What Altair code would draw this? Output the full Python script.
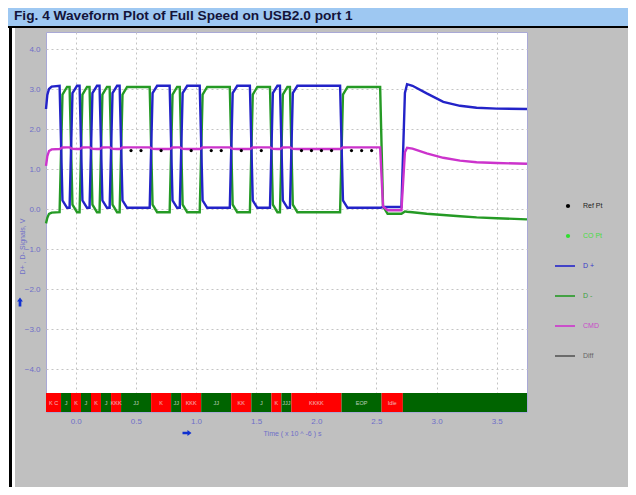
import altair as alt
import pandas as pd

FONT = "Liberation Sans"
TITLE = "Fig. 4 Waveform Plot of Full Speed on USB2.0 port 1"
Y_TITLE = "D+ , D- Signals, V"
X_TITLE = "Time ( x 10 ^ -6 ) s"

legend_names = ["Ref Pt", "CO Pt", "D +", "D -", "CMD", "Diff"]
legend_kinds = ["dot", "dot", "line", "line", "line", "line"]
legend_colors = ["#000000", "#2ee02e", "#2323c8", "#259a25", "#cc33cc", "#555555"]

x_ticks = [0.0, 0.5, 1.0, 1.5, 2.0, 2.5, 3.0, 3.5]
y_ticks = [-4.0, -3.0, -2.0, -1.0, 0.0, 1.0, 2.0, 3.0, 4.0]

# crossing times of D+/D- (x 10^-6 s)
edge_t = [-0.122, -0.039, 0.044, 0.127, 0.210, 0.294, 0.377, 0.627, 0.793,
          0.877, 1.043, 1.293, 1.460, 1.627, 1.710, 1.793, 2.210, 2.543, 2.720]
# bus state before the first edge and after each edge: H = D+ high, L = D+ low, Z = SE0
states = ["H", "L", "H", "L", "H", "L", "H", "L", "H", "L",
          "H", "L", "H", "L", "H", "L", "H", "L", "Z", "H"]

dp_level = {"H": 3.08, "L": 0.03, "Z": 0.05}
dm_level = {"H": -0.08, "L": 3.05, "Z": -0.12}
cmd_level = {"H": 1.50, "L": 1.54, "Z": -0.03}

start_t = [-0.247, -0.236, -0.222, -0.200]
dp_start = [2.50, 2.85, 3.00, 3.06]
dm_start = [-0.36, -0.22, -0.12, -0.09]
cmd_start = [1.08, 1.32, 1.45, 1.49]

tail_t = [2.737, 2.755, 2.800, 2.918, 3.056, 3.195, 3.333, 3.500, 3.752]
dp_tail = [2.90, 3.12, 3.08, 2.89, 2.68, 2.58, 2.53, 2.51, 2.50]
dm_tail = [-0.06, -0.07, -0.08, -0.12, -0.15, -0.18, -0.21, -0.23, -0.26]
cmd_tail = [1.42, 1.53, 1.51, 1.39, 1.28, 1.21, 1.17, 1.15, 1.13]

ref_t = [0.460, 0.543, 0.710, 0.960, 1.127, 1.210, 1.377, 1.543,
         1.877, 1.960, 2.043, 2.127, 2.293, 2.377, 2.460]
ref_v = [1.46, 1.46, 1.46, 1.46, 1.46, 1.46, 1.46, 1.46,
         1.46, 1.46, 1.46, 1.46, 1.46, 1.46, 1.46]

bar_bounds = [-0.247] + edge_t + [3.752]
bar_kind = ["K", "J", "K", "J", "K", "J", "K", "J", "K", "J",
            "K", "J", "K", "J", "K", "J", "K", "J", "K", "J"]
bar_labels = ["K C", "J", "K", "J", "K", "J", "KKK", "JJ", "K", "JJ",
              "KKK", "JJ", "KK", "J", "K", "JJJ", "KKKK", "EOP", "Idle", ""]

X_DOMAIN = [-0.247, 3.752]
Y_DOMAIN = [-5.075, 4.425]
BAR_TOP, BAR_BOTTOM, BAR_TEXT = -4.6, -5.075, -4.84


def build_trace(level, start_vals, tail_vals):
    ts, vs = list(start_t), list(start_vals)
    for i, te in enumerate(edge_t):
        old, new = level[states[i]], level[states[i + 1]]
        ts.append(te - 0.012)
        vs.append(old)
        if i == len(edge_t) - 1:
            break
        ts += [te + 0.012, te + 0.05]
        vs += [new + 0.06 * (old - new), new]
    return ts + tail_t, vs + tail_vals


rows = []
for name, lev, st, tl in [("D -", dm_level, dm_start, dm_tail),
                          ("D +", dp_level, dp_start, dp_tail),
                          ("CMD", cmd_level, cmd_start, cmd_tail)]:
    ts, vs = build_trace(lev, st, tl)
    for k, (t, v) in enumerate(zip(ts, vs)):
        rows.append({"series": name, "t": t, "v": v, "i": k})
traces = pd.DataFrame(rows)

refs = pd.DataFrame({"t": ref_t, "v": ref_v})
bar = pd.DataFrame({"t0": bar_bounds[:-1], "t1": bar_bounds[1:],
                    "kind": bar_kind, "label": bar_labels})
leg = pd.DataFrame({"name": legend_names, "kind": legend_kinds})
one = pd.DataFrame({"k": [0]})

xs = alt.Scale(domain=X_DOMAIN, nice=False, zero=False)
ys = alt.Scale(domain=Y_DOMAIN, nice=False, zero=False)
color_scale = alt.Scale(domain=legend_names, range=legend_colors)
x_axis = alt.Axis(values=x_ticks, format=".1f", title=X_TITLE,
                  titleX=246, titleY=21, titleBaseline="middle", titleAlign="center")
y_axis = alt.Axis(values=y_ticks, format=".1f", title=Y_TITLE,
                  titleX=-24, titleY=214, titleAngle=270,
                  titleBaseline="middle", titleAlign="center")


def box(x, x2, y, y2, color):
    return alt.Chart(one).mark_rect(color=color).encode(
        x=alt.value(x), x2=alt.value(x2), y=alt.value(y), y2=alt.value(y2))


ARROW = "M-0.3,1L0.3,1L0.3,-0.1L0.65,-0.1L0,-1L-0.65,-0.1L-0.3,-0.1Z"

left_strip = box(-38, -31, -6, 456, "white")
title_bar = box(-38, 582, -24, -6, "#9ec8f2")
title_rule = box(-38, 582, -6, -4, "#000000")
left_rule = box(-37, -34, -24, 456, "#000000")
title_text = alt.Chart(one).mark_text(
    text=TITLE, align="left", baseline="middle", font=FONT, fontSize=13.7,
    fontWeight="bold", color="#14143a").encode(x=alt.value(-32), y=alt.value(-16))

bar_rects = alt.Chart(bar).mark_rect().encode(
    x=alt.X("t0:Q", scale=xs, axis=x_axis), x2="t1:Q",
    y=alt.datum(BAR_TOP), y2=alt.datum(BAR_BOTTOM),
    fill=alt.Fill("kind:N", scale=alt.Scale(domain=["K", "J"], range=["#ff0000", "#006400"]),
                  legend=None))
bar_text = alt.Chart(bar).transform_calculate(mid="(datum.t0 + datum.t1) / 2").mark_text(
    font=FONT, fontSize=5.5, color="#eeeeee", opacity=0.75, baseline="middle").encode(
    x=alt.X("mid:Q", scale=xs, axis=x_axis), y=alt.datum(BAR_TEXT), text="label:N")

lines = alt.Chart(traces).mark_line(strokeWidth=2.4).encode(
    x=alt.X("t:Q", scale=xs, axis=x_axis),
    y=alt.Y("v:Q", scale=ys, axis=y_axis),
    color=alt.Color("series:N", scale=color_scale, legend=None),
    order="i:Q")

dots = alt.Chart(refs).mark_point(filled=True, size=10, color="#000000", opacity=1).encode(
    x=alt.X("t:Q", scale=xs, axis=x_axis), y=alt.Y("v:Q", scale=ys, axis=y_axis))

up_arrow = alt.Chart(one).mark_point(shape=ARROW, filled=True, size=81, color="#1030d0",
                                     opacity=1).encode(x=alt.value(-26), y=alt.value(270))
right_arrow = alt.Chart(one).mark_point(shape=ARROW, filled=True, size=81, color="#1030d0",
                                        opacity=1, angle=90).encode(x=alt.value(141), y=alt.value(401))

main = alt.layer(left_strip, left_rule, title_bar, title_rule, title_text,
                 bar_rects, bar_text, lines, dots, up_arrow, right_arrow)

# hand-made legend on the right (entries placed by a point scale)
leg_y = alt.Y("name:N", scale=alt.Scale(domain=legend_names, range=[159, 339]), axis=None)
leg_color = alt.Color("name:N", scale=color_scale, legend=None)
leg_dots = alt.Chart(leg).transform_filter("datum.kind == 'dot'").mark_point(
    filled=True, size=18, opacity=1).encode(x=alt.value(522), y=leg_y, color=leg_color)
leg_lines = alt.Chart(leg).transform_filter("datum.kind == 'line'").mark_rule(
    strokeWidth=1.6).encode(x=alt.value(509), x2=alt.value(529), y=leg_y, color=leg_color)
leg_text = alt.Chart(leg).mark_text(align="left", baseline="middle", font=FONT,
                                    fontSize=7, opacity=0.85).encode(
    x=alt.value(537), y=leg_y, color=leg_color, text="name:N")
legend_part = alt.layer(leg_dots, leg_lines, leg_text)

chart = alt.layer(main, legend_part).resolve_scale(
    y="independent"
).properties(
    width=481, height=380,
    autosize=alt.AutoSizeParams(type="none"),
    padding={"left": 38, "top": 24, "right": 101, "bottom": 75},
    background="#c0c0c0",
).configure_view(
    fill="white", stroke="#a9a9d6", strokeWidth=1
).configure_axis(
    grid=True, gridDash=[2, 3], gridColor="#c4c4c4", gridWidth=1,
    ticks=False, domain=False,
    labelFont=FONT, labelFontSize=8, labelColor="#6f6fc8", labelPadding=6,
    titleFont=FONT, titleFontSize=7, titleColor="#6f6fc8", titleFontWeight="normal",
).configure_axisX(labelPadding=5)

chart.save("out.html", embed_options={"renderer": "svg", "actions": False})
